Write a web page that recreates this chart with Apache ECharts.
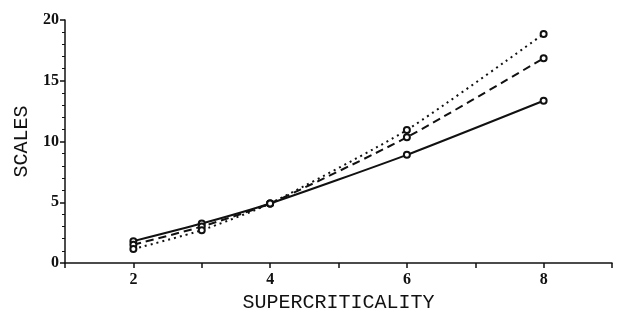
<!DOCTYPE html>
<html>
<head>
<meta charset="utf-8">
<script src="https://cdn.jsdelivr.net/npm/echarts@6/dist/echarts.min.js"></script>
<style>
  html, body { margin: 0; padding: 0; background: #fff; }
  #chart { width: 620px; height: 311px; }
</style>
</head>
<body>
<div id="chart"></div>
<script>
// supercriticality values on the x axis
const xValues = [2, 3, 4, 6, 8];
// three curves
const solidSeries = [1.8, 3.25, 4.9, 8.9, 13.35];
const dashedSeries = [1.5, 3.0, 4.9, 10.35, 16.85];
const dottedSeries = [1.15, 2.7, 4.9, 10.95, 18.85];
const xLabelValues = [2, 4, 6, 8];

const chartDom = document.getElementById('chart');
const myChart = echarts.init(chartDom);

const toPairs = arr => xValues.map((x, i) => [x, arr[i]]);

const makeSeries = (name, values, type) => ({
  name: name,
  type: 'line',
  data: toPairs(values),
  smooth: 0.2,
  symbol: 'emptyCircle',
  symbolSize: 6,
  lineStyle: { color: '#111', width: 2, type: type },
  itemStyle: { color: '#111', borderColor: '#111', borderWidth: 1.2 },
  z: 3
});

const option = {
  animation: false,
  backgroundColor: '#fff',
  grid: { left: 65, right: 8, top: 20, bottom: 48, containLabel: false, outerBoundsMode: 'none' },
  xAxis: {
    type: 'value',
    min: 1,
    max: 9,
    interval: 1,
    name: 'SUPERCRITICALITY',
    nameLocation: 'middle',
    nameGap: 29,
    nameTextStyle: { fontFamily: 'Liberation Mono', fontSize: 20, color: '#111' },
    axisLine: { show: true, onZero: false, lineStyle: { color: '#111', width: 1.5 } },
    axisTick: {
      show: true,
      length: 5,
      interval: (idx, val) => val >= 2,
      lineStyle: { color: '#111', width: 1.5 }
    },
    axisLabel: {
      fontFamily: 'Liberation Serif',
      fontWeight: 'bold',
      fontSize: 16,
      color: '#111',
      margin: 9,
      formatter: v => (xLabelValues.includes(v) ? String(v) : '')
    },
    splitLine: { show: false }
  },
  yAxis: {
    type: 'value',
    min: 0,
    max: 20,
    interval: 5,
    name: 'SCALES',
    nameLocation: 'middle',
    nameGap: 32,
    nameTextStyle: { fontFamily: 'Liberation Mono', fontSize: 20, color: '#111' },
    axisLine: { show: true, lineStyle: { color: '#111', width: 1.5 } },
    axisTick: { show: true, length: 5, lineStyle: { color: '#111', width: 1.5 } },
    minorTick: { show: true, splitNumber: 5, length: 3, lineStyle: { color: '#111', width: 1 } },
    axisLabel: {
      fontFamily: 'Liberation Serif',
      fontWeight: 'bold',
      fontSize: 16,
      color: '#111',
      margin: 6
    },
    splitLine: { show: false }
  },
  series: [
    makeSeries('solid', solidSeries, 'solid'),
    makeSeries('dashed', dashedSeries, [8, 5]),
    makeSeries('dotted', dottedSeries, [2, 4])
  ]
};

myChart.setOption(option);
</script>
</body>
</html>
